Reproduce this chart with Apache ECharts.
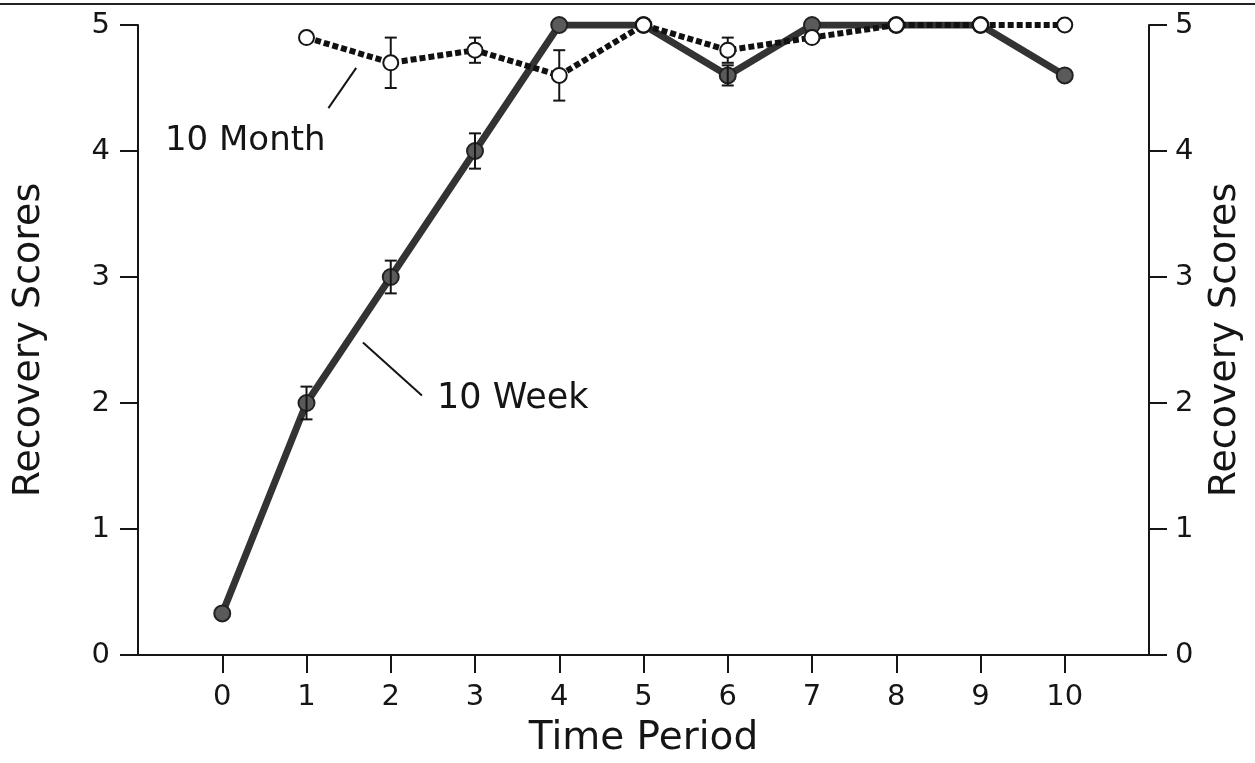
<!DOCTYPE html>
<html>
<head>
<meta charset="utf-8">
<script src="https://cdn.jsdelivr.net/npm/echarts@6/dist/echarts.min.js"></script>
<style>
  html, body { margin: 0; padding: 0; background: #fff; }
  #chart { width: 1255px; height: 763px; }
</style>
</head>
<body>
<div id="chart"></div>
<script>
// Time periods and tick labels
const periods = [0, 1, 2, 3, 4, 5, 6, 7, 8, 9, 10];
const xTicks = [0, 1, 2, 3, 4, 5, 6, 7, 8, 9, 10];
const yTicks = [0, 1, 2, 3, 4, 5];

// 10 Week group: mean recovery score and error half-width per period
const weekScores = [0.33, 2.0, 3.0, 4.0, 5.0, 5.0, 4.6, 5.0, 5.0, 5.0, 4.6];
const weekErr    = [0, 0.13, 0.13, 0.14, 0, 0, 0.08, 0, 0, 0, 0];

// 10 Month group (no period 0)
const monthPeriods = [1, 2, 3, 4, 5, 6, 7, 8, 9, 10];
const monthScores  = [4.9, 4.7, 4.8, 4.6, 5.0, 4.8, 4.9, 5.0, 5.0, 5.0];
const monthErr     = [0, 0.2, 0.1, 0.2, 0, 0.1, 0, 0, 0, 0];

const FONT = 'DejaVu Sans';
const INK = '#151515';

const weekData = periods.map((p, i) => [p, weekScores[i]]);
const monthData = monthPeriods.map((p, i) => [p, monthScores[i]]);
const weekErrData = periods.map((p, i) => [p, weekScores[i] - weekErr[i], weekScores[i] + weekErr[i]]).filter((d, i) => weekErr[i] > 0);
const monthErrData = monthPeriods.map((p, i) => [p, monthScores[i] - monthErr[i], monthScores[i] + monthErr[i]]).filter((d, i) => monthErr[i] > 0);

function errorBar(params, api) {
  const x = api.value(0);
  const lo = api.coord([x, api.value(1)]);
  const hi = api.coord([x, api.value(2)]);
  const half = 6;
  const style = { stroke: INK, lineWidth: 2 };
  return {
    type: 'group',
    children: [
      { type: 'line', shape: { x1: lo[0], y1: lo[1], x2: hi[0], y2: hi[1] }, style },
      { type: 'line', shape: { x1: lo[0] - half, y1: lo[1], x2: lo[0] + half, y2: lo[1] }, style },
      { type: 'line', shape: { x1: hi[0] - half, y1: hi[1], x2: hi[0] + half, y2: hi[1] }, style }
    ]
  };
}

const yAxisCommon = {
  type: 'value',
  min: 0,
  max: 5,
  interval: 1,
  splitLine: { show: false },
  axisLine: { show: true, onZero: false, lineStyle: { color: INK, width: 2 } },
  axisTick: { show: true, inside: false, length: 18, lineStyle: { color: INK, width: 2 } },
  axisLabel: { fontFamily: FONT, fontSize: 29, color: INK, margin: 28, customValues: yTicks },
  name: 'Recovery Scores',
  nameLocation: 'middle',
  nameRotate: 90,
  nameTextStyle: { fontFamily: FONT, fontSize: 38, color: INK }
};

const chart = echarts.init(document.getElementById('chart'), null, { renderer: 'canvas' });

chart.setOption({
  backgroundColor: '#fff',
  animation: false,
  grid: { left: 138, right: 106, top: 25, bottom: 107 },
  xAxis: {
    type: 'value',
    min: -1,
    max: 11,
    interval: 1,
    splitLine: { show: false },
    axisLine: { show: true, onZero: false, lineStyle: { color: INK, width: 2 } },
    axisTick: { show: true, length: 18, customValues: xTicks, lineStyle: { color: INK, width: 2 } },
    axisLabel: { fontFamily: FONT, fontSize: 29, color: INK, margin: 28, customValues: xTicks },
    name: 'Time Period',
    nameLocation: 'middle',
    nameGap: 64,
    nameTextStyle: { fontFamily: FONT, fontSize: 39, color: INK }
  },
  yAxis: [
    Object.assign({}, yAxisCommon, { position: 'left', nameGap: 90 }),
    Object.assign({}, yAxisCommon, { position: 'right', nameGap: 57,
      axisLabel: Object.assign({}, yAxisCommon.axisLabel, { margin: 26 }) })
  ],
  series: [
    {
      name: '10 Week',
      type: 'line',
      data: weekData,
      z: 2,
      symbol: 'circle',
      symbolSize: 16,
      lineStyle: { color: '#333', width: 7 },
      itemStyle: { color: '#5a5a5a', borderColor: '#222', borderWidth: 2 }
    },
    {
      name: '10 Week error',
      type: 'custom',
      data: weekErrData,
      z: 3,
      renderItem: errorBar
    },
    {
      name: '10 Month error',
      type: 'custom',
      data: monthErrData,
      z: 4,
      renderItem: errorBar
    },
    {
      name: '10 Month',
      type: 'line',
      data: monthData,
      z: 5,
      symbol: 'circle',
      symbolSize: 15,
      lineStyle: { color: '#111', width: 6, type: [6, 3] },
      itemStyle: { color: '#fff', borderColor: INK, borderWidth: 2 }
    }
  ]
});

// Curve labels with leader lines, positioned in data space
const notes = [
  { text: '10 Month', at: [-0.68, 4.08], from: [1.26, 4.34], to: [1.59, 4.66], size: 34 },
  { text: '10 Week', at: [2.55, 2.03], from: [1.67, 2.48], to: [2.37, 2.06], size: 35 }
];

const graphics = [
  // rule across the top of the page
  { type: 'line', shape: { x1: 0, y1: 4, x2: 1255, y2: 4 }, style: { stroke: '#222', lineWidth: 2 }, z: 10 }
];
notes.forEach(n => {
  const p = chart.convertToPixel({ gridIndex: 0 }, n.at);
  const a = chart.convertToPixel({ gridIndex: 0 }, n.from);
  const b = chart.convertToPixel({ gridIndex: 0 }, n.to);
  graphics.push({
    type: 'text', x: p[0], y: p[1], z: 10,
    style: { text: n.text, font: n.size + 'px "' + FONT + '"', fill: INK, textVerticalAlign: 'middle', verticalAlign: 'middle' }
  });
  graphics.push({
    type: 'line', z: 10,
    shape: { x1: a[0], y1: a[1], x2: b[0], y2: b[1] },
    style: { stroke: INK, lineWidth: 2 }
  });
});
chart.setOption({ graphic: graphics });
</script>
</body>
</html>
